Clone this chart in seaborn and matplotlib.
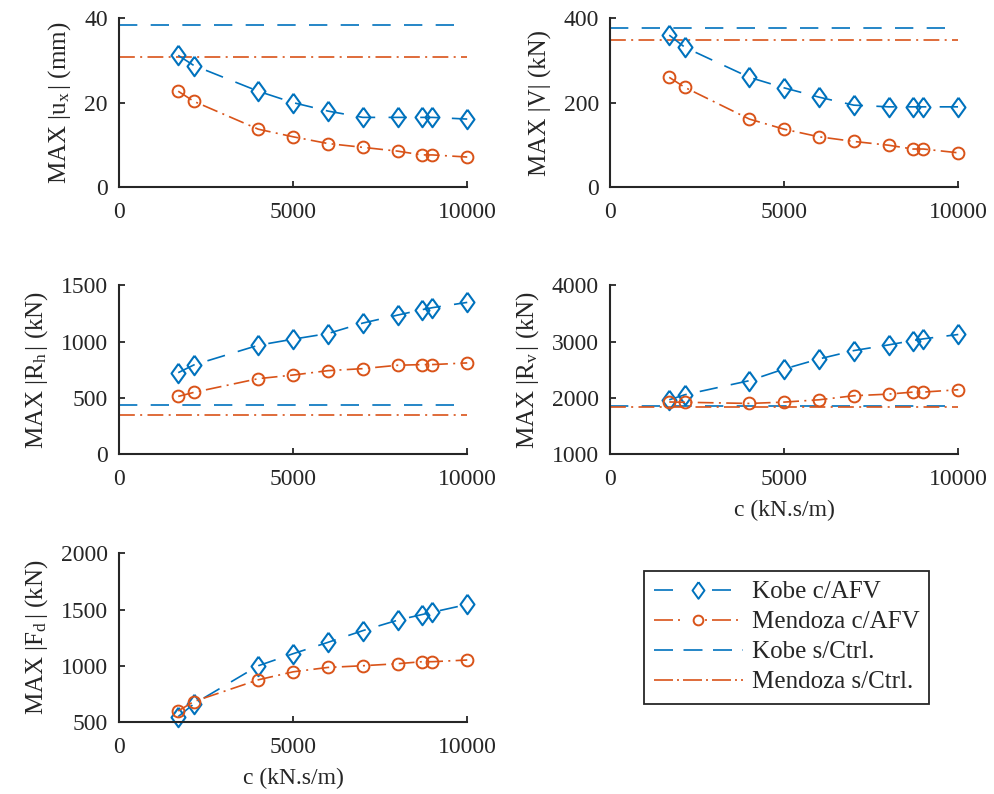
import matplotlib
matplotlib.use("Agg")
import matplotlib.pyplot as plt
import seaborn as sns
import pandas as pd
from matplotlib.lines import Line2D

sns.set_theme(style="ticks")
plt.rcParams['font.family'] = ['Liberation Serif', 'DejaVu Serif']
plt.rcParams['mathtext.fontset'] = 'custom'
plt.rcParams['mathtext.rm'] = 'Liberation Serif'
plt.rcParams['mathtext.it'] = 'Liberation Serif:italic'

# ---------------- data ----------------
c_vals = [1700, 2150, 4000, 5000, 6000, 7000, 8000, 8700, 9000, 10000]

ux_kobe = [31.2, 28.8, 22.7, 20.0, 18.0, 16.5, 16.5, 16.5, 16.5, 16.1]
ux_mendoza = [22.7, 20.3, 13.7, 11.9, 10.3, 9.4, 8.5, 7.6, 7.6, 7.1]
ux_ctrl = [38.5, 30.7]

v_kobe = [360, 331, 260, 235, 213, 194, 190, 190, 190, 190]
v_mendoza = [260, 236, 161, 137, 119, 108, 99, 90, 90, 81]
v_ctrl = [378, 349]

rh_kobe = [723, 792, 967, 1021, 1071, 1164, 1235, 1283, 1301, 1348]
rh_mendoza = [512, 548, 670, 702, 741, 759, 789, 795, 795, 810]
rh_ctrl = [435, 345]

rv_kobe = [1964, 2054, 2304, 2512, 2690, 2839, 2940, 3018, 3048, 3125]
rv_mendoza = [1925, 1920, 1899, 1923, 1964, 2036, 2065, 2101, 2101, 2143]
rv_ctrl = [1848, 1842]

fd_kobe = [548, 661, 1000, 1107, 1208, 1312, 1405, 1455, 1476, 1545]
fd_mendoza = [598, 682, 875, 946, 985, 1000, 1018, 1036, 1036, 1051]

ylabels = [r'MAX $|\mathrm{u}_{\mathrm{x}}\,|$ (mm)', r'MAX |V| (kN)',
           r'MAX $|\mathrm{R}_{\mathrm{h}}\,|$ (kN)',
           r'MAX $|\mathrm{R}_{\mathrm{v}}\,|$ (kN)', r'MAX $|\mathrm{F}_{\mathrm{d}}\,|$ (kN)']
ylims = [(0, 40), (0, 400), (0, 1500), (1000, 4000), (500, 2000)]
yticks = [[0, 20, 40], [0, 200, 400], [0, 500, 1000, 1500],
          [1000, 2000, 3000, 4000], [500, 1000, 1500, 2000]]
xticks = [0, 5000, 10000]
xlabel = 'c (kN.s/m)'
labels = ['Kobe c/AFV', 'Mendoza c/AFV', 'Kobe s/Ctrl.', 'Mendoza s/Ctrl.']

panels = [
    (ux_kobe, ux_mendoza, ux_ctrl),
    (v_kobe, v_mendoza, v_ctrl),
    (rh_kobe, rh_mendoza, rh_ctrl),
    (rv_kobe, rv_mendoza, rv_ctrl),
    (fd_kobe, fd_mendoza, None),
]

BLUE = '#0072BD'
ORANGE = '#D95319'
TXT = '#262626'
LW = 1.2
DASH = (11, 8)
DASHDOT = (9.5, 3.2, 1.2, 3.2)
FS = 17
DIAMOND = [(0, 1), (0.72, 0), (0, -1), (-0.72, 0), (0, 1)]

fig = plt.figure(figsize=(9.95, 7.94), dpi=100)
W = 0.350
H = 0.2125
lefts = [0.1196, 0.6131]
bottoms = [0.7645, 0.4282, 0.0907]
positions = [(lefts[0], bottoms[0]), (lefts[1], bottoms[0]),
             (lefts[0], bottoms[1]), (lefts[1], bottoms[1]),
             (lefts[0], bottoms[2])]

for i, (kobe, mend, ctrl) in enumerate(panels):
    ax = fig.add_axes([positions[i][0], positions[i][1], W, H])
    df = pd.DataFrame({'c': c_vals, 'kobe': kobe, 'mend': mend})
    if ctrl is not None:
        ax.axhline(ctrl[0], color=BLUE, lw=LW, dashes=DASH)
        ax.axhline(ctrl[1], color=ORANGE, lw=LW, dashes=DASHDOT)
    sns.lineplot(data=df, x='c', y='kobe', ax=ax, color=BLUE, lw=LW,
                 marker=DIAMOND, ms=14, markerfacecolor='none', markeredgecolor=BLUE,
                 markeredgewidth=1.5, clip_on=False, sort=False)
    ax.lines[-1].set_dashes(DASH)
    sns.lineplot(data=df, x='c', y='mend', ax=ax, color=ORANGE, lw=LW,
                 marker='o', ms=8.5, markerfacecolor='none', markeredgecolor=ORANGE,
                 markeredgewidth=1.4, clip_on=False, sort=False)
    ax.lines[-1].set_dashes(DASHDOT)
    ax.set_xlim(0, 10000)
    ax.set_ylim(*ylims[i])
    ax.set_xticks(xticks)
    ax.set_yticks(yticks[i])
    ax.set_xticklabels([str(t) for t in xticks])
    ax.set_yticklabels([str(t) for t in yticks[i]])
    ax.tick_params(direction='in', length=4, width=1.3, labelsize=FS, colors=TXT,
                   labelcolor=TXT)
    ax.tick_params(axis='x', pad=11)
    ax.tick_params(axis='y', pad=8)
    for s in ['top', 'right']:
        ax.spines[s].set_visible(False)
    for s in ['left', 'bottom']:
        ax.spines[s].set_linewidth(1.5)
        ax.spines[s].set_color(TXT)
    ax.set_ylabel(ylabels[i], fontsize=18, color=TXT, labelpad=8)
    if i in (3, 4):
        ax.set_xlabel(xlabel, fontsize=FS, color=TXT, labelpad=7)
    else:
        ax.set_xlabel('')

handles = [
    Line2D([], [], color=BLUE, lw=LW, dashes=(11.4, 23.4), marker=DIAMOND, ms=12,
           markerfacecolor='none', markeredgecolor=BLUE, markeredgewidth=1.4),
    Line2D([], [], color=ORANGE, lw=LW, dashes=(11.4, 3, 1.2, 15, 1.2, 3), marker='o', ms=7,
           markerfacecolor='none', markeredgecolor=ORANGE, markeredgewidth=1.4),
    Line2D([], [], color=BLUE, lw=LW, dashes=(11.4, 6.3)),
    Line2D([], [], color=ORANGE, lw=LW, dashes=(11.4, 2.4, 1.2, 2.4)),
]
leg = fig.legend(handles, labels, loc='upper left', bbox_to_anchor=(644 / 995, 1 - 571 / 794),
                 fontsize=18, frameon=True, fancybox=False, framealpha=1, edgecolor=TXT,
                 handlelength=3.55, borderpad=0.4, labelspacing=0.3, handletextpad=0.36,
                 borderaxespad=0)
leg.get_frame().set_linewidth(1.3)

fig.savefig('out.png', dpi=100)
